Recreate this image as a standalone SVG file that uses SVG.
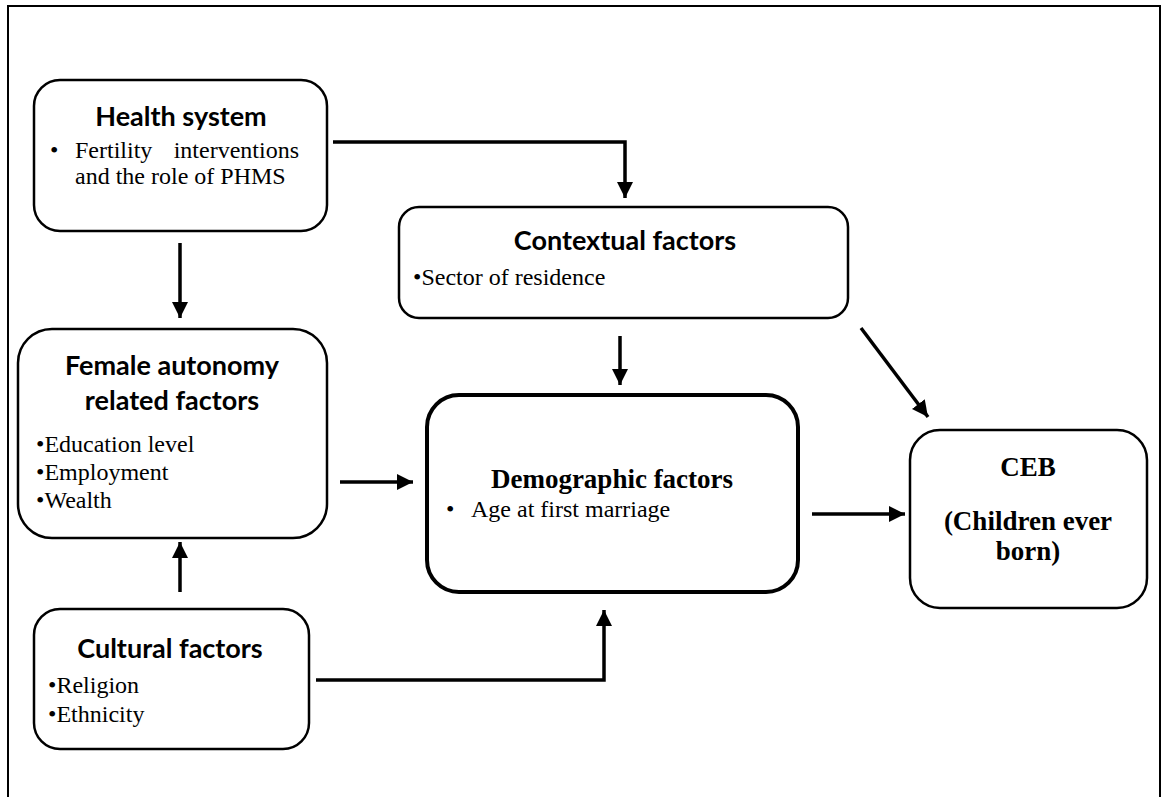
<svg xmlns="http://www.w3.org/2000/svg" width="1165" height="797" viewBox="0 0 1165 797">
<style>
.box{fill:#fff;stroke:#000;stroke-width:2.5}
.thick{stroke-width:4}
.ttl{font-family:Lato,"Liberation Sans",sans-serif;font-weight:bold;font-size:27px;text-anchor:middle;fill:#000}
.tb{font-family:"Liberation Serif","DejaVu Serif",serif;font-weight:bold;font-size:27px;text-anchor:middle;fill:#000}
.tx{font-family:"Liberation Serif","DejaVu Serif",serif;font-size:24px;fill:#000}
.con{fill:none;stroke:#000;stroke-width:3.5}
</style>
<defs>
<marker id="ah" viewBox="0 0 10 10" refX="10" refY="5" markerWidth="4.6" markerHeight="4.6" markerUnits="strokeWidth" orient="auto">
<path d="M0,0 L10,5 L0,10 Z" fill="#000"/>
</marker>
</defs>
<rect x="0" y="0" width="1165" height="797" fill="#fff"/>
<rect x="8" y="6" width="1152" height="792" fill="none" stroke="#000" stroke-width="2"/>

<g id="health">
<rect class="box" x="34" y="80" width="293" height="151" rx="26"/>
<text class="ttl" x="181" y="126">Health system</text>
<text class="tx" x="50" y="158">•</text>
<text class="tx" x="75" y="158">Fertility</text>
<text class="tx" x="299" y="158" text-anchor="end">interventions</text>
<text class="tx" x="75" y="184">and the role of PHMS</text>
</g>

<g id="contextual">
<rect class="box" x="399" y="207" width="449" height="111" rx="20"/>
<text class="ttl" x="625" y="250">Contextual factors</text>
<text class="tx" x="413" y="285">•Sector of residence</text>
</g>

<g id="female">
<rect class="box" x="18" y="329" width="309" height="209" rx="34"/>
<text class="ttl" x="172" y="375">Female autonomy</text>
<text class="ttl" x="172" y="410">related factors</text>
<text class="tx" x="36" y="452">•Education level</text>
<text class="tx" x="36" y="480">•Employment</text>
<text class="tx" x="36" y="508">•Wealth</text>
</g>

<g id="demographic">
<rect class="box thick" x="427" y="395" width="371" height="197" rx="32"/>
<text class="tb" x="612" y="488">Demographic factors</text>
<text class="tx" x="446" y="517">•</text>
<text class="tx" x="471" y="517">Age at first marriage</text>
</g>

<g id="ceb">
<rect class="box" x="910" y="430" width="237" height="178" rx="30"/>
<text class="tb" x="1028" y="476">CEB</text>
<text class="tb" x="1028" y="530">(Children ever</text>
<text class="tb" x="1028" y="560">born)</text>
</g>

<g id="cultural">
<rect class="box" x="34" y="609" width="275" height="140" rx="26"/>
<text class="ttl" x="170" y="658">Cultural factors</text>
<text class="tx" x="48" y="693">•Religion</text>
<text class="tx" x="48" y="722">•Ethnicity</text>
</g>

<g id="connectors">
<path class="con" d="M333,142 H625 V198" marker-end="url(#ah)"/>
<path class="con" d="M180,243 V318" marker-end="url(#ah)"/>
<path class="con" d="M620,336 V385" marker-end="url(#ah)"/>
<path class="con" d="M340,482 H413" marker-end="url(#ah)"/>
<path class="con" d="M180,592 V542" marker-end="url(#ah)"/>
<path class="con" d="M316,680 H604 V610" marker-end="url(#ah)"/>
<path class="con" d="M812,514 H905" marker-end="url(#ah)"/>
<path class="con" d="M861,328 L928,417" marker-end="url(#ah)"/>
</g>
</svg>
